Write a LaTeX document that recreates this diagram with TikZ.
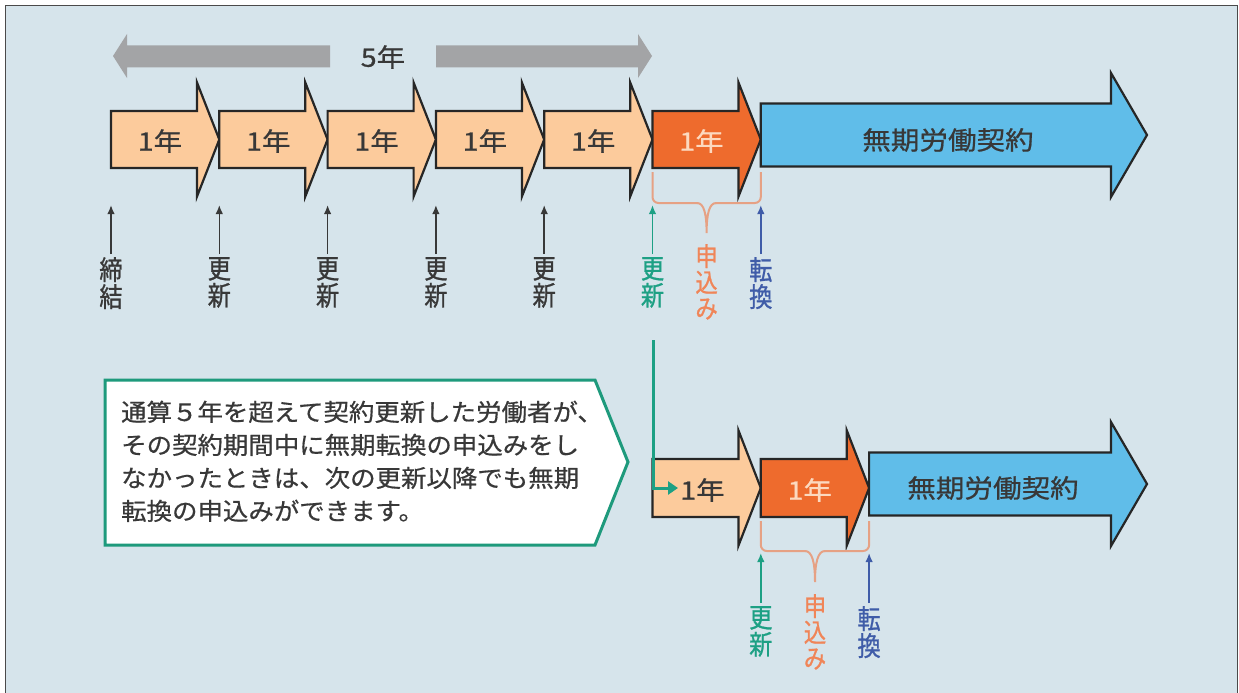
\documentclass[tikz,border=0pt]{standalone}
\usepackage{fontspec}
\setmainfont[FakeBold=0.8]{Noto Sans CJK JP}
\newfontfamily\jpw[FakeStretch=1.12,FakeBold=0.8]{Noto Sans CJK JP}
\newfontfamily\jpc[FakeStretch=1.06,FakeBold=0.6]{Noto Sans CJK JP}
\newfontfamily\jpn[FakeStretch=0.86,FakeBold=0.9]{Noto Sans CJK JP}
\usetikzlibrary{arrows.meta}
\definecolor{bg}{HTML}{D6E4EB}
\definecolor{frame}{HTML}{4A4A4A}
\definecolor{peach}{HTML}{FCCB9C}
\definecolor{orng}{HTML}{EE6B2D}
\definecolor{sky}{HTML}{60BDE9}
\definecolor{outl}{HTML}{262626}
\definecolor{dk}{HTML}{383838}
\definecolor{greyarr}{HTML}{A3A4A6}
\definecolor{teal}{HTML}{1DA084}
\definecolor{callg}{HTML}{1E9A7C}
\definecolor{brc}{HTML}{E6A184}
\definecolor{moshi}{HTML}{F08558}
\definecolor{navy}{HTML}{3F5CA8}
\definecolor{lightor}{HTML}{FCD9BF}
\newcommand\ArrShape[7]{%
  \filldraw[arrowline, fill=#1] (#2,#5-#6) -- (#3,#5-#6) -- (#3,#5-#7) -- (#4,#5) -- (#3,#5+#7) -- (#3,#5+#6) -- (#2,#5+#6) -- cycle;}
\tikzset{
  arrowline/.style={draw=outl, line width=2.2pt, line join=miter},
  yrtext/.style={font=\jpw\fontsize{25.5}{25.5}\selectfont, inner sep=0pt, text=dk},
  lab/.style={font=\jpn\fontsize{27}{27}\selectfont, align=center, inner sep=0pt, anchor=north},
  uparr/.style={line width=1.6pt, -{Latex[length=9pt,width=7.5pt]}},
  bracestyle/.style={draw=brc, line width=2pt, rounded corners=6pt},
  calltext/.style={font=\jpc\fontsize{24}{33}\selectfont, text=dk, inner sep=0pt, anchor=base west},
}
\begin{document}
\begin{tikzpicture}[x=1pt,y=-1pt]
\useasboundingbox (0,0) rectangle (1239,693);
\filldraw[fill=bg, draw=frame, line width=1.6pt] (5.5,5.5) rectangle (1237.5,705);

% grey 5-year arrow
\fill[greyarr] (113,56) -- (127,34) -- (127,45.5) -- (330,45.5) -- (330,67.5) -- (127,67.5) -- (127,78) -- cycle;
\fill[greyarr] (436,45.5) -- (638,45.5) -- (638,34) -- (652,56) -- (638,78) -- (638,67.5) -- (436,67.5) -- cycle;
\node[yrtext] (five) at (383,57) {5年};

% row 1 arrows
\ArrShape{peach}{111}{197}{219.3}{139.5}{28.5}{57}
\ArrShape{peach}{219.3}{305.3}{327.6}{139.5}{28.5}{57}
\ArrShape{peach}{327.6}{413.6}{435.9}{139.5}{28.5}{57}
\ArrShape{peach}{435.9}{521.9}{544.2}{139.5}{28.5}{57}
\ArrShape{peach}{544.2}{630.2}{652.5}{139.5}{28.5}{57}
\ArrShape{orng}{652.5}{738.5}{760.8}{139.5}{28.5}{57}
\ArrShape{sky}{760.8}{1111}{1147}{135}{31.5}{62}
\node[yrtext] (y1) at (160,141) {1年};
\node[yrtext] (y2) at (268.3,141) {1年};
\node[yrtext] (y3) at (376.6,141) {1年};
\node[yrtext] (y4) at (484.9,141) {1年};
\node[yrtext] (y5) at (593.2,141) {1年};
\node[yrtext, text=lightor] (y6) at (701.5,141) {1年};
\node[yrtext] (mk1) at (948,140) {無期労働契約};

% row 1 brace
\draw[bracestyle] (652.5,172) -- (652.5,203) -- (698,203);
\draw[draw=brc, line width=2pt] (697,203) .. controls (704,203) and (706.6,214) .. (706.6,233) .. controls (706.6,214) and (709.2,203) .. (716.2,203);
\draw[bracestyle] (715.2,203) -- (760.8,203) -- (760.8,172);

% row 1 tick arrows and labels
\coordinate (t1) at (111,205);
\coordinate (t2) at (219.3,205);
\coordinate (t3) at (327.6,205);
\coordinate (t4) at (435.9,205);
\coordinate (t5) at (544.2,205);
\coordinate (t6) at (652.5,205);
\coordinate (t7) at (760.8,205);
\node[lab, text=dk] (l1) at (111,257) {締\\結};
\node[lab, text=dk] (l2) at (219.3,257) {更\\新};
\node[lab, text=dk] (l3) at (327.6,257) {更\\新};
\node[lab, text=dk] (l4) at (435.9,257) {更\\新};
\node[lab, text=dk] (l5) at (544.2,257) {更\\新};
\node[lab, text=teal] (l6) at (652.5,257) {更\\新};
\node[lab, text=moshi, font=\jpn\fontsize{26}{26}\selectfont] (l7) at (706.6,244) {申\\込\\み};
\node[lab, text=navy] (l8) at (760.8,257) {転\\換};
\draw[uparr, dk] ([yshift=3pt]l1.north) -- (t1);
\draw[uparr, dk] ([yshift=3pt]l2.north) -- (t2);
\draw[uparr, dk] ([yshift=3pt]l3.north) -- (t3);
\draw[uparr, dk] ([yshift=3pt]l4.north) -- (t4);
\draw[uparr, dk] ([yshift=3pt]l5.north) -- (t5);
\draw[uparr, teal] ([yshift=3pt]l6.north) -- (t6);
\draw[uparr, navy] ([yshift=3pt]l8.north) -- (t7);

% callout
\filldraw[fill=white, draw=callg, line width=3pt] (105,380) -- (595,380) -- (628,462) -- (595,545) -- (105,545) -- cycle;
\node[calltext] (c1) at (121,421) {通算５年を超えて契約更新した労働者が、};
\node[calltext] (c2) at (121,454) {その契約期間中に無期転換の申込みをし};
\node[calltext] (c3) at (121,487) {なかったときは、次の更新以降でも無期};
\node[calltext] (c4) at (121,520) {転換の申込みができます。};

% row 2 arrows
\ArrShape{peach}{652.5}{738.5}{760.8}{488}{29}{57.5}
\ArrShape{orng}{760.8}{846.8}{869.1}{488}{29}{57.5}
\ArrShape{sky}{869.1}{1111}{1147}{484}{31.5}{62}
\node[yrtext] (z1) at (702.5,490) {1年};
\node[yrtext, text=lightor] (z2) at (809.8,490) {1年};
\node[yrtext] (mk2) at (993,488) {無期労働契約};

% green connector
\coordinate (g0) at (653,340);
\coordinate (g1) at (653,488);
\coordinate (g2) at (678,488);
\draw[teal, line width=3pt, -{Triangle[length=10pt,width=13pt]}] (g0) -- (g1) -- (g2);

% row 2 brace
\draw[bracestyle] (760.8,521) -- (760.8,551) -- (806,551);
\draw[draw=brc, line width=2pt] (805,551) .. controls (812,551) and (815,562) .. (815,582) .. controls (815,562) and (818,551) .. (825,551);
\draw[bracestyle] (824,551) -- (869.1,551) -- (869.1,521);

% row 2 tick arrows and labels
\coordinate (s1) at (760.8,553);
\coordinate (s2) at (869.1,553);
\node[lab, text=teal] (m1) at (760.8,606) {更\\新};
\node[lab, text=moshi, font=\jpn\fontsize{26}{26}\selectfont] (m2) at (815,594) {申\\込\\み};
\node[lab, text=navy] (m3) at (869.1,606) {転\\換};
\draw[uparr, teal] ([yshift=3pt]m1.north) -- (s1);
\draw[uparr, navy] ([yshift=3pt]m3.north) -- (s2);
\end{tikzpicture}
\end{document}
